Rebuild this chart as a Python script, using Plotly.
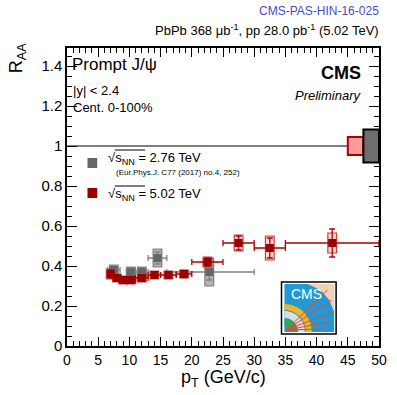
import math
import plotly.graph_objects as go

# ---- data -------------------------------------------------------------
# 5.02 TeV prompt J/psi R_AA, |y|<2.4, 0-100%
pt_502 = [7.0, 8.0, 9.0, 10.25, 12.0, 14.0, 16.25, 18.75, 22.5, 27.5, 32.5, 42.5]
pt_502_lo = [0.5, 0.5, 0.5, 0.75, 1.0, 1.0, 1.25, 1.25, 2.5, 2.5, 2.5, 7.5]
pt_502_hi = [0.5, 0.5, 0.5, 0.75, 1.0, 1.0, 1.25, 1.25, 2.5, 2.5, 2.5, 7.5]
raa_502 = [0.36, 0.34, 0.33, 0.33, 0.34, 0.355, 0.355, 0.36, 0.42, 0.515, 0.49, 0.515]
stat_502 = [0.02, 0.015, 0.015, 0.012, 0.012, 0.013, 0.015, 0.018, 0.02, 0.035, 0.05, 0.07]
syst_502 = [0.025, 0.02, 0.02, 0.02, 0.02, 0.02, 0.02, 0.02, 0.025, 0.04, 0.06, 0.05]

# 2.76 TeV reference (Eur.Phys.J. C77 (2017) 252)
pt_276 = [7.5, 10.25, 12.0, 14.5, 22.8]
pt_276_lo = [1.0, 0.75, 1.0, 1.5, 6.8]
pt_276_hi = [1.0, 0.75, 1.0, 1.5, 7.2]
raa_276 = [0.38, 0.37, 0.37, 0.44, 0.37]
stat_276 = [0.02, 0.02, 0.02, 0.03, 0.04]
syst_276 = [0.025, 0.025, 0.025, 0.045, 0.07]

# global uncertainties at R_AA = 1
glob_502 = 0.045
glob_276 = 0.083

x_ticks = [0, 5, 10, 15, 20, 25, 30, 35, 40, 45, 50]
y_ticks = [0, 0.2, 0.4, 0.6, 0.8, 1.0, 1.2, 1.4]

RED = "#9b0000"
GRAY = "#666666"
FONT = "Liberation Sans"

W, H = 397, 395
L, R, T, B = 67, 10, 48, 49
PW, PH = W - L - R, H - T - B


def px(xp):
    return (xp - L) / PW


def py(yp):
    return (H - B - yp) / PH


fig = go.Figure()
shapes = []

# systematic boxes
box_hw = 0.7
for x, y, s in zip(pt_276, raa_276, syst_276):
    shapes.append(dict(type="rect", xref="x", yref="y", x0=x - box_hw, x1=x + box_hw,
                       y0=y - s, y1=y + s, fillcolor="rgba(140,140,140,0.65)",
                       line=dict(color="rgba(110,110,110,0.85)", width=1.2), layer="below"))
for x, y, s in zip(pt_502, raa_502, syst_502):
    shapes.append(dict(type="rect", xref="x", yref="y", x0=x - box_hw, x1=x + box_hw,
                       y0=y - s, y1=y + s, fillcolor="rgba(255,120,120,0.3)",
                       line=dict(color="rgba(190,0,0,0.75)", width=1.2), layer="below"))

fig.add_trace(go.Scatter(
    x=pt_276, y=raa_276, mode="markers",
    marker=dict(symbol="square", size=8, color=GRAY),
    error_x=dict(type="data", symmetric=False, array=pt_276_hi, arrayminus=pt_276_lo,
                 color="#808080", thickness=1.3, width=3),
    error_y=dict(type="data", array=stat_276, color="#808080", thickness=1.3, width=3),
    showlegend=False, hoverinfo="skip"))

fig.add_trace(go.Scatter(
    x=pt_502, y=raa_502, mode="markers",
    marker=dict(symbol="square", size=8, color=RED),
    error_x=dict(type="data", symmetric=False, array=pt_502_hi, arrayminus=pt_502_lo,
                 color="#b00000", thickness=1.3, width=3),
    error_y=dict(type="data", array=stat_502, color="#b00000", thickness=1.3, width=3),
    showlegend=False, hoverinfo="skip"))

# unity line and global uncertainty boxes
shapes.append(dict(type="line", xref="x", yref="y", x0=0, x1=50, y0=1, y1=1,
                   line=dict(color="black", width=1)))
shapes.append(dict(type="rect", xref="x", yref="y", x0=45, x1=47.5,
                   y0=1 - glob_502, y1=1 + glob_502, fillcolor="#ff9a9a",
                   line=dict(color="#b00000", width=2)))
shapes.append(dict(type="rect", xref="x", yref="y", x0=47.5, x1=50,
                   y0=1 - glob_276, y1=1 + glob_276, fillcolor="#6e6e6e",
                   line=dict(color="black", width=2)))

# legend symbols
for (cx, cy, col) in [(93, 163, GRAY), (93, 193, RED)]:
    shapes.append(dict(type="rect", xref="paper", yref="paper",
                       x0=px(cx - 5), x1=px(cx + 5), y0=py(cy + 5), y1=py(cy - 5),
                       fillcolor=col, line=dict(width=0)))
# overlines of the square-root signs
for yl in (150, 186):
    shapes.append(dict(type="line", xref="paper", yref="paper",
                       x0=px(116), x1=px(147), y0=py(yl), y1=py(yl),
                       line=dict(color="black", width=1)))


# CMS logo (simplified drawing)
def path(points):
    return "M " + " L ".join(f"{px(a):.5f},{py(b):.5f}" for a, b in points) + " Z"


def ring(cx, cy, r0, r1, n=16):
    pts = [(cx + r1 * math.cos(-math.pi / 2 * i / n), cy + r1 * math.sin(-math.pi / 2 * i / n)) for i in range(n + 1)]
    pts += [(cx + r0 * math.cos(-math.pi / 2 * i / n), cy + r0 * math.sin(-math.pi / 2 * i / n)) for i in range(n, -1, -1)]
    return path(pts)


shapes.append(dict(type="rect", xref="paper", yref="paper", x0=px(287), x1=px(343),
                   y0=py(334), y1=py(282), fillcolor="white", line=dict(color="black", width=1.5)))
shapes.append(dict(type="rect", xref="paper", yref="paper", x0=px(290), x1=px(341),
                   y0=py(332), y1=py(284), fillcolor="#1f9ad6", line=dict(width=0)))
shapes.append(dict(type="path", xref="paper", yref="paper",
                   path=path([(314, 284), (341, 284), (341, 312), (336, 300), (327, 290)]),
                   fillcolor="#f3d2b4", line=dict(width=0)))
shapes.append(dict(type="path", xref="paper", yref="paper", path=ring(290, 332, 22, 28),
                   fillcolor="#f2b51c", line=dict(width=0)))
shapes.append(dict(type="path", xref="paper", yref="paper", path=ring(290, 332, 14, 21),
                   fillcolor="#dcdcdc", line=dict(width=0)))
shapes.append(dict(type="path", xref="paper", yref="paper", path=ring(290, 332, 6, 13),
                   fillcolor="#3aa84a", line=dict(width=0)))
for ex, ey in [(334, 290), (338, 300), (339, 312), (336, 322), (330, 329)]:
    shapes.append(dict(type="line", xref="paper", yref="paper", x0=px(292), y0=py(330),
                       x1=px(ex), y1=py(ey), line=dict(color="#e8462a", width=1)))

ann = []


def text(t, xp, yp, size, xanchor="left", color="black", **kw):
    ann.append(dict(text=t, x=px(xp), y=py(yp), xref="paper", yref="paper",
                    xanchor=xanchor, yanchor="middle", showarrow=False,
                    font=dict(family=FONT, size=size, color=color), **kw))


text("CMS", 295, 294, 14, color="white")
text("Prompt J/ψ", 70, 64, 17)
text("|y| < 2.4", 71, 91, 13)
text("Cent. 0-100%", 71, 107, 13)
text("<b>CMS</b>", 371, 73, 18, xanchor="right")
text("<i>Preliminary</i>", 372, 95, 13, xanchor="right")
text("CMS-PAS-HIN-16-025", 389, 11, 12, xanchor="right", color="#4b4bbf")
text("PbPb 368 μb<sup>-1</sup>, pp 28.0 pb<sup>-1</sup> (5.02 TeV)", 389, 30, 13, xanchor="right")
text("√s<sub>NN</sub> = 2.76 TeV", 107, 158, 13)
text("(Eur.Phys.J. C77 (2017) no.4, 252)", 115, 172, 8)
text("√s<sub>NN</sub> = 5.02 TeV", 107, 194, 13)
text("p<sub>T</sub> (GeV/c)", 227, 379, 18, xanchor="center")
ann.append(dict(text="R<sub>AA</sub>", x=px(17), y=py(58), xref="paper", yref="paper",
                xanchor="center", yanchor="middle", showarrow=False, textangle=-90,
                font=dict(family=FONT, size=18, color="black")))

axis_common = dict(showgrid=False, zeroline=False, showline=True, linecolor="black",
                   linewidth=1.5, mirror="allticks", ticks="inside", tickcolor="black",
                   tickwidth=1.2, tickfont=dict(family=FONT, size=15, color="black"))

fig.update_layout(
    width=W, height=H, margin=dict(l=L, r=R, t=T, b=B),
    paper_bgcolor="white", plot_bgcolor="white",
    xaxis=dict(range=[0, 50], tickvals=x_ticks, ticklen=9,
               minor=dict(dtick=1, ticks="inside", ticklen=5, tickcolor="black", showgrid=False),
               **{**axis_common, "tickfont": dict(family=FONT, size=14, color="black")}),
    yaxis=dict(range=[0, 1.49], tickvals=y_ticks, ticklen=10,
               minor=dict(dtick=0.05, ticks="inside", ticklen=5, tickcolor="black", showgrid=False),
               **axis_common),
    shapes=shapes, annotations=ann, showlegend=False,
)

fig.write_html("out.html")
